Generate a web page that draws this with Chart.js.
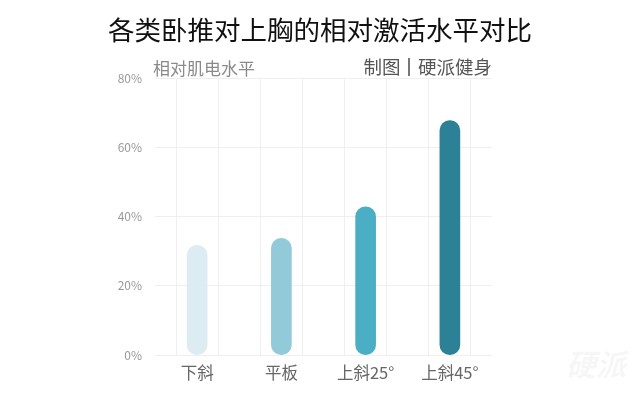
<!DOCTYPE html>
<html>
<head>
<meta charset="utf-8">
<script src="https://cdn.jsdelivr.net/npm/chart.js@4"></script>
<style>
  html, body { margin: 0; padding: 0; background: #fff; }
  #wrap { position: relative; width: 640px; height: 395px; overflow: hidden;
    font-family: "Noto Sans CJK SC", "Noto Sans", sans-serif; }
  #wrap canvas { position: absolute; left: 0; top: 0; }
  .txt { position: absolute; white-space: nowrap; line-height: 1; }
  #title { left: 0; width: 640px; top: 16px; text-align: center; font-size: 26.5px; color: #111; }
  #unit { left: 153px; top: 59px; font-size: 17px; color: #8a8a8a; }
  #source { right: 148px; top: 57px; font-size: 18.5px; color: #555; }
  #source .sep { display: inline-block; width: 1.5px; height: 18px; background: #777; margin: 0 8px; vertical-align: -2px; }
  #mark { left: 566px; top: 348px; font-size: 30px; font-style: italic; font-weight: bold; color: rgba(0,0,0,0.035); }
</style>
</head>
<body>
<div id="wrap">
  <canvas id="chart" width="640" height="395"></canvas>
  <div class="txt" id="title">各类卧推对上胸的相对激活水平对比</div>
  <div class="txt" id="unit">相对肌电水平</div>
  <div class="txt" id="source">制图<span class="sep"></span>硬派健身</div>
  <div class="txt" id="mark">硬派</div>
</div>
<script>
const categorias = ["下斜", "平板", "上斜25°", "上斜45°"];
const valori = [31.7, 33.7, 42.8, 67.7];
const colori = ["#dcecf2", "#93cad9", "#4aaec5", "#2c8196"];
const tickY = [0, 20, 40, 60, 80];

// linee verticali della griglia: bordi e centri delle categorie
const righeGriglia = new Array(categorias.length * 2 + 1).fill("");

const ctx = document.getElementById("chart");
new Chart(ctx, {
  type: "bar",
  data: {
    labels: categorias,
    datasets: [
      {
        data: valori,
        backgroundColor: colori,
        barThickness: 20,
        borderRadius: 10,
        borderSkipped: false,
        xAxisID: "x",
      },
    ],
  },
  options: {
    responsive: false,
    animation: false,
    layout: { padding: { left: 100, right: 148, top: 78, bottom: 12 } },
    plugins: { legend: { display: false }, tooltip: { enabled: false } },
    scales: {
      xg: {
        type: "category",
        labels: righeGriglia,
        position: "top",
        offset: false,
        ticks: { display: false },
        grid: { color: "#efefef", drawTicks: false },
        border: { display: false },
      },
      x: {
        offset: true,
        grid: { display: false },
        border: { display: false },
        ticks: {
          color: "#666",
          padding: 0,
          font: { family: "Noto Sans CJK SC", size: 16.5 },
        },
      },
      y: {
        min: 0,
        max: 80,
        afterBuildTicks: (axis) => {
          axis.ticks = tickY.map((v) => ({ value: v }));
        },
        afterFit: (axis) => {
          axis.width = 55;
        },
        grid: { color: "#efefef", drawTicks: false },
        border: { display: false },
        ticks: {
          color: "#999",
          padding: 13,
          font: { family: "Noto Sans CJK SC", size: 12 },
          callback: (v) => v + "%",
        },
      },
    },
  },
});
</script>
</body>
</html>
